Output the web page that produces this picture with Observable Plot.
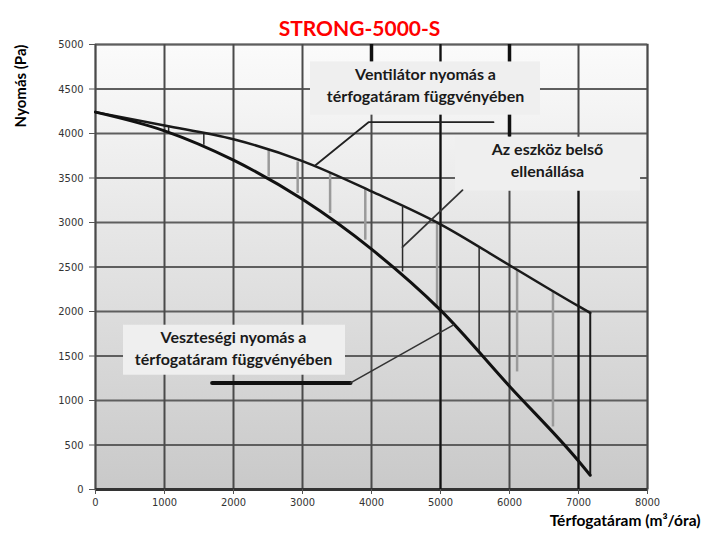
<!DOCTYPE html>
<html><head><meta charset="utf-8">
<script src="https://cdn.jsdelivr.net/npm/d3@7"></script>
<script src="https://cdn.jsdelivr.net/npm/@observablehq/plot@0.6"></script>
<style>body{margin:0;background:#fff}</style>
</head><body><div id="chart"></div>
<script>
const title = "STRONG-5000-S";
const yLabel = "Nyomás (Pa)";
const xLabel = "Térfogatáram (m³/óra)";
const xTicks = [0,1000,2000,3000,4000,5000,6000,7000,8000];
const yTicks = [0,500,1000,1500,2000,2500,3000,3500,4000,4500,5000];

// Ventilátor (fan) curve
const fanX = [0,1000,2000,3000,4000,5000,6000,7000,7170];
const fanY = [4240,4090,3935,3690,3350,2980,2520,2060,1985];
// Veszteségi (loss) curve
const sysX = [0,1000,2000,3000,4000,5000,6000,7000,7170];
const sysY = [4240,4030,3700,3260,2700,2015,1160,320,160];

// hatch lines between curves
const hatchGrayX = [2510,2930,3400,3910,4950,6110,6630];
const hatchGrayTop = [3812,3681,3551,3382,3000,2464,2220];
const hatchGrayBottom = [3512,3326,3101,2801,2052,1321,703];
const hatchDarkX = [1060,1570,4450,5560];
const hatchDarkTop = [4085,4000,3169,2708];
const hatchDarkBottom = [4010,3869,2445,1528];
const endX = [7170], endTop = [1985], endBottom = [160];

// darker grid segments
const darkGridX = [5000,7000];
const darkGridY1 = [0,0];
const darkGridY2 = [5000,3360];
const heavyGridX = [4000,6000];
const heavyGridY1 = [4800,3960];
const heavyGridY2 = [5000,5000];

// annotation boxes (data units)
const boxX1 = [3116,5217,406];
const boxX2 = [6449,7899,3623];
const boxY1 = [4206,3351,1284];
const boxY2 = [4804,3958,1846];
const annoText = ["Ventilátor nyomás a","térfogatáram függvényében","Az eszköz belső","ellenállása","Veszteségi nyomás a","térfogatáram függvényében"];
const annoX = [4783,4783,6551,6551,2000,2000];
const annoY = [4655,4411,3812,3565,1700,1453];

// leader lines
const ventLeadX = [3188,3957,5768], ventLeadY = [3644,4127,4127];
const eszkLeadX = [5319,4449], eszkLeadY = [3364,2724];
const vesztBarX = [1690,3696], vesztBarY = [1198,1198];
const vesztLeadX = [3696,5190], vesztLeadY = [1198,1850];

const pts = (xs, ys) => xs.map((x,i)=>({x, y: ys[i]}));
const rules = (xs, a, b) => xs.map((x,i)=>({x, y1:a[i], y2:b[i]}));
const boxes = boxX1.map((x,i)=>({x1:x, x2:boxX2[i], y1:boxY1[i], y2:boxY2[i]}));
const annos = annoText.map((t,i)=>({t, x:annoX[i], y:annoY[i]}));

const font = "Lato, 'Open Sans', sans-serif";
const tickFont = "'DejaVu Sans Condensed', 'DejaVu Sans', sans-serif";

const chart = Plot.plot({
  width: 705, height: 533,
  marginTop: 44, marginLeft: 95, marginRight: 58, marginBottom: 44,
  style: {fontFamily: font, background: "#fff", overflow: "visible"},
  x: {domain: [0,8000]},
  y: {domain: [0,5000]},
  marks: [
    Plot.frame({fill: "url(#bggrad)", stroke: "#9a9a9a", strokeWidth: 2}),
    Plot.ruleY(yTicks, {stroke: "#5e5e5e", strokeWidth: 2}),
    Plot.ruleX(xTicks, {stroke: "#4a4a4a", strokeWidth: 2}),
    Plot.ruleY([0], {stroke: "#333", strokeWidth: 3}),
    Plot.ruleX(rules(darkGridX, darkGridY1, darkGridY2), {x:"x", y1:"y1", y2:"y2", stroke:"#111", strokeWidth:2}),
    Plot.ruleX(rules(heavyGridX, heavyGridY1, heavyGridY2), {x:"x", y1:"y1", y2:"y2", stroke:"#111", strokeWidth:3.5}),
    Plot.axisY(yTicks, {tickSize: 6, tickPadding: 6, stroke: "#555", fill: "#333", fontSize: 11, fontFamily: tickFont, tickFormat: d => String(d), label: null}),
    Plot.axisX(xTicks, {tickSize: 5, tickPadding: 4, stroke: "#555", fill: "#333", fontSize: 11, fontFamily: tickFont, tickFormat: d => String(d), label: null}),
    Plot.ruleX(rules(hatchGrayX, hatchGrayTop, hatchGrayBottom), {x:"x", y1:"y1", y2:"y2", stroke:"#9a9a9a", strokeWidth:2.5}),
    Plot.ruleX(rules(hatchDarkX, hatchDarkTop, hatchDarkBottom), {x:"x", y1:"y1", y2:"y2", stroke:"#2a2a2a", strokeWidth:1.5}),
    Plot.ruleX(rules(endX, endTop, endBottom), {x:"x", y1:"y1", y2:"y2", stroke:"#1a1a1a", strokeWidth:2}),
    Plot.line(pts(fanX, fanY), {x:"x", y:"y", curve:"monotone-x", stroke:"#1a1a1a", strokeWidth:2.5}),
    Plot.line(pts(sysX, sysY), {x:"x", y:"y", curve:"monotone-x", stroke:"#111", strokeWidth:3}),
    Plot.rect(boxes, {x1:"x1", x2:"x2", y1:"y1", y2:"y2", fill:"#efefef"}),
    Plot.line(pts(ventLeadX, ventLeadY), {x:"x", y:"y", stroke:"#222", strokeWidth:1.8}),
    Plot.line(pts(eszkLeadX, eszkLeadY), {x:"x", y:"y", stroke:"#333", strokeWidth:1.8}),
    Plot.line(pts(vesztBarX, vesztBarY), {x:"x", y:"y", stroke:"#111", strokeWidth:4}),
    Plot.line(pts(vesztLeadX, vesztLeadY), {x:"x", y:"y", stroke:"#333", strokeWidth:1.6}),
    Plot.text(annos, {x:"x", y:"y", text:"t", fontSize:16, fontWeight:"bold", fill:"#1a1a1a", fontFamily: font}),
    Plot.text([title], {frameAnchor:"top", dx:-12, dy:-23, fontSize:21, fontWeight:"bold", fill:"#ff0000", fontFamily: font}),
    Plot.text([yLabel], {frameAnchor:"left", textAnchor:"middle", dx:-74, dy:-181, rotate:-90, fontSize:15, fontWeight:"bold", fill:"#000", fontFamily: font}),
    Plot.text([xLabel], {frameAnchor:"bottom-right", dx:53, dy:36, textAnchor:"end", fontSize:15.5, fontWeight:"bold", fill:"#000", fontFamily: font})
  ]
});
const svg = d3.select(chart);
const defs = svg.insert("defs", ":first-child");
const g = defs.append("linearGradient").attr("id","bggrad").attr("x1",0).attr("y1",0).attr("x2",0).attr("y2",1);
g.append("stop").attr("offset","0%").attr("stop-color","#fbfbfb");
g.append("stop").attr("offset","100%").attr("stop-color","#c9c9c9");
document.getElementById("chart").appendChild(chart);
</script>
</body></html>
